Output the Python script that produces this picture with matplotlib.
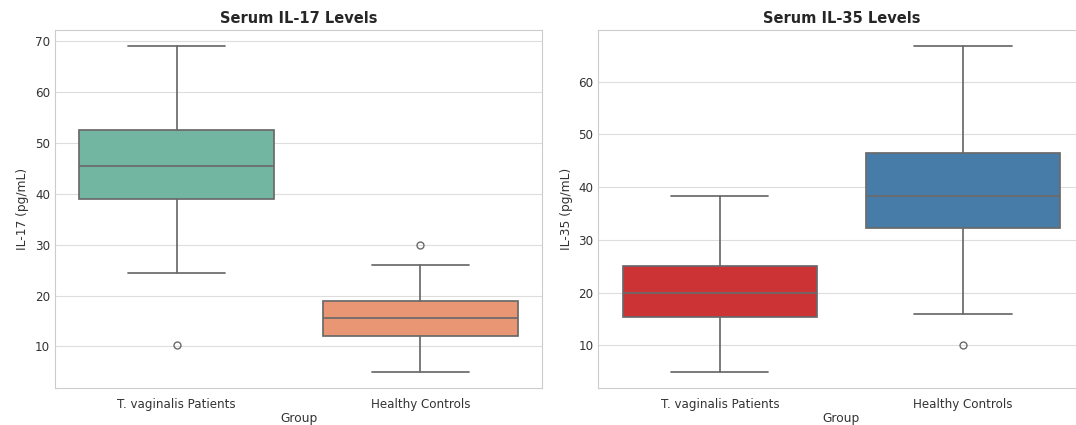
import numpy as np
import matplotlib
matplotlib.use('Agg')
from matplotlib import pyplot as plt
import seaborn as sns

groups = ['T. vaginalis Patients', 'Healthy Controls']

# five-number summaries: (low whisker, q1, median, q3, high whisker)
il17_stats = [(24.5, 39.0, 45.5, 52.5, 69.0), (5.0, 12.1, 15.6, 19.0, 26.1)]
il17_fliers = [[10.3], [30.0]]
il35_stats = [(5.0, 15.3, 20.0, 25.1, 38.4), (16.0, 32.2, 38.3, 46.4, 66.7)]
il35_fliers = [[], [10.0]]


def make_stats(stats, fliers):
    out = []
    for (lo, q1, med, q3, hi), fl in zip(stats, fliers):
        out.append({'whislo': lo, 'q1': q1, 'med': med, 'q3': q3,
                    'whishi': hi, 'fliers': fl})
    return out


def draw_box(ax, stats, fliers, palette, title, ylabel):
    colors = [sns.desaturate(c, 0.75) for c in sns.color_palette(palette, 2)]
    line = '#6a6a6a'
    bp = ax.bxp(make_stats(stats, fliers), positions=[0, 1], widths=0.8,
                patch_artist=True, showfliers=True,
                boxprops=dict(edgecolor=line, linewidth=1.25),
                whiskerprops=dict(color=line, linewidth=1.25),
                capprops=dict(color=line, linewidth=1.25),
                medianprops=dict(color=line, linewidth=1.25),
                flierprops=dict(marker='o', markerfacecolor='none',
                                markeredgecolor=line, markersize=5, linewidth=0))
    for patch, c in zip(bp['boxes'], colors):
        patch.set_facecolor(c)
    for cap in bp['caps']:
        x = cap.get_xdata()
        mid = x.mean()
        cap.set_xdata([mid - 0.2, mid + 0.2])
    ax.set_xlim(-0.5, 1.5)
    ax.set_xticks([0, 1])
    ax.set_xticklabels(groups)
    ax.xaxis.grid(False)
    ax.yaxis.grid(True, color='#dddddd')
    ax.set_axisbelow(True)
    ax.set_title(title, fontsize=10.5, fontweight='bold', pad=5)
    ax.set_xlabel('Group', fontsize=8.8, color='#333333', labelpad=1)
    ax.set_ylabel(ylabel, fontsize=8.8, color='#333333')
    ax.tick_params(axis='x', pad=7)
    ax.tick_params(axis='both', labelsize=8.6, length=0, labelcolor='#333333')
    lo = min(min(s[0] for s in stats), min(sum(fliers, [])))
    hi = max(max(s[4] for s in stats), max(sum(fliers, [])))
    m = (hi - lo) * 0.05
    ax.set_ylim(lo - m, hi + m)


sns.set_style('whitegrid')
plt.rcParams['font.family'] = ['DejaVu Sans']

fig = plt.figure(figsize=(10.76, 4.25), dpi=100)
ax1 = fig.add_axes([0.051, 0.087, 0.453, 0.842])
ax2 = fig.add_axes([0.556, 0.087, 0.452, 0.842])

draw_box(ax1, il17_stats, il17_fliers, 'Set2', 'Serum IL-17 Levels', 'IL-17 (pg/mL)')
draw_box(ax2, il35_stats, il35_fliers, 'Set1', 'Serum IL-35 Levels', 'IL-35 (pg/mL)')

plt.savefig('out.png', dpi=100)
